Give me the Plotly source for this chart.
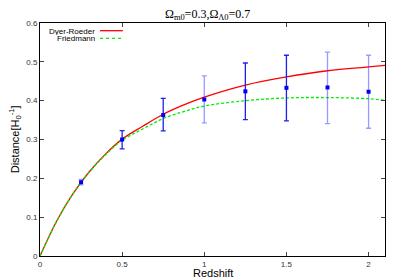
import plotly.graph_objects as go

# Data points (redshift, distance, error bars)
z_obs = [0.25, 0.5, 0.75, 1.0, 1.25, 1.5, 1.75, 2.0]
d_obs = [0.190, 0.300, 0.363, 0.403, 0.424, 0.433, 0.434, 0.423]
err_plus = [0.007, 0.023, 0.043, 0.061, 0.073, 0.084, 0.091, 0.094]
err_minus = [0.007, 0.024, 0.041, 0.060, 0.073, 0.085, 0.093, 0.094]
light_bar = [True, False, False, True, False, False, True, True]

# Curves
z_curve = [0, 0.1, 0.2, 0.3, 0.4, 0.5, 0.625, 0.75, 0.875, 1.0, 1.25, 1.5, 1.75, 2.0, 2.1]
d_dyer = [0, 0.089, 0.160, 0.217, 0.263, 0.301, 0.334, 0.365, 0.389, 0.409, 0.440, 0.461, 0.477, 0.487, 0.491]
d_fried = [0, 0.088, 0.160, 0.216, 0.261, 0.298, 0.327, 0.354, 0.372, 0.386, 0.400, 0.407, 0.408, 0.405, 0.401]

x_ticks = [0, 0.5, 1, 1.5, 2]
x_tick_labels = ["0", "0.5", "1", "1.5", "2"]
y_ticks = [0, 0.1, 0.2, 0.3, 0.4, 0.5, 0.6]
y_tick_labels = ["0", "0.1", "0.2", "0.3", "0.4", "0.5", "0.6"]

SANS = "Liberation Sans, Arial"

fig = go.Figure()

fig.add_trace(go.Scatter(x=z_curve, y=d_dyer, mode="lines", line=dict(color="#ff0000", width=1.3, shape="spline"),
                         showlegend=False, hoverinfo="skip"))
fig.add_trace(go.Scatter(x=z_curve, y=d_fried, mode="lines",
                         line=dict(color="#00ee00", width=1.3, shape="spline", dash="3px,2px"),
                         showlegend=False, hoverinfo="skip"))

for light in (True, False):
    xs = [z for z, l in zip(z_obs, light_bar) if l == light]
    ys = [d for d, l in zip(d_obs, light_bar) if l == light]
    ep = [e for e, l in zip(err_plus, light_bar) if l == light]
    em = [e for e, l in zip(err_minus, light_bar) if l == light]
    col = "rgba(70,70,255,0.55)" if light else "#2020ee"
    fig.add_trace(go.Scatter(x=xs, y=ys, mode="markers",
                             marker=dict(symbol="square", size=4, color="#0000ee"),
                             error_y=dict(type="data", array=ep, arrayminus=em, symmetric=False,
                                          color=col, thickness=1.3, width=2.5),
                             showlegend=False))

# gnuplot-style legend (text right-aligned, sample line to the right)
legend_items = [("Dyer-Roeder", "#ff0000", "solid"), ("Friedmann", "#00ee00", "dot")]
for i, (name, col, dash) in enumerate(legend_items):
    yp = 0.967 - i * 0.033
    fig.add_annotation(x=0.162, y=yp, xref="paper", yref="paper", text=name, showarrow=False,
                       xanchor="right", yanchor="middle", height=8, borderpad=0,
                       font=dict(family=SANS, size=8, color="#000"))
    fig.add_shape(type="line", xref="paper", yref="paper", x0=0.174, x1=0.240, y0=yp, y1=yp,
                  line=dict(color=col, width=1.3, dash=dash))

# axis titles
fig.add_annotation(x=0.501, y=-0.074, xref="paper", yref="paper", text="Redshift", showarrow=False,
                   xanchor="center", yanchor="middle", font=dict(family=SANS, size=11, color="#000"))
fig.add_annotation(x=-0.073, y=0.5, xref="paper", yref="paper", text="Distance[H<sub>0</sub><sup>-1</sup>]",
                   showarrow=False, textangle=-90, xanchor="center", yanchor="middle",
                   font=dict(family=SANS, size=11, color="#000"))

fig.update_layout(
    width=392, height=272,
    margin=dict(l=32, r=15, t=15, b=24),
    paper_bgcolor="white", plot_bgcolor="white",
    title=dict(text="Ω<sub>m0</sub>=0.3,Ω<sub>Λ0</sub>=0.7", xref="paper", x=0.486, xanchor="center",
               yref="container", y=0.995, yanchor="top", pad=dict(t=0, b=0),
               font=dict(family="Liberation Serif, Times New Roman", size=12, color="#000")),
)
fig.update_xaxes(range=[0, 2.1], tickvals=x_ticks, ticktext=x_tick_labels, ticks="inside", ticklen=4,
                 showline=True, linecolor="#000", linewidth=1, mirror="ticks", showgrid=False, zeroline=False,
                 automargin=False, tickfont=dict(family=SANS, size=8, color="#333"))
fig.update_yaxes(range=[0, 0.6], tickvals=y_ticks, ticktext=y_tick_labels, ticks="inside", ticklen=4,
                 showline=True, linecolor="#000", linewidth=1, mirror="ticks", showgrid=False, zeroline=False,
                 automargin=False, tickfont=dict(family=SANS, size=8, color="#333"))

fig.write_html("out.html")
